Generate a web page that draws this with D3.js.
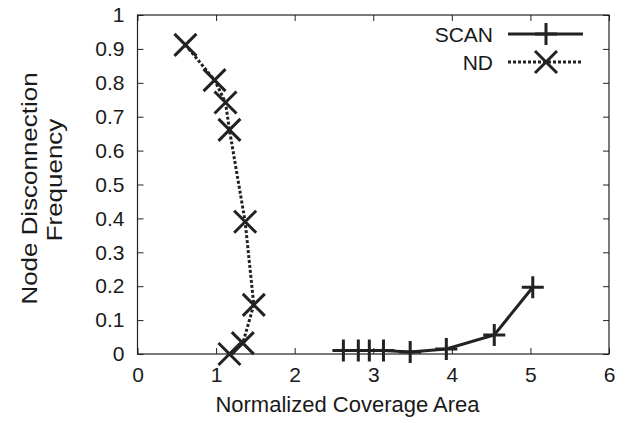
<!DOCTYPE html>
<html lang="en">
<head>
    <meta charset="UTF-8">
    <title>Node Disconnection Frequency</title>
    <script src="https://d3js.org/d3.v7.min.js"></script>
    <style>
        body { margin: 0; background: #fff; }
        svg text { font-family: "Liberation Sans", Arial, Helvetica, sans-serif; fill: #1a1a1a; }
    </style>
</head>
<body>
    <div id="chart-container"></div>

    <script>
        // values
        const scanX = [2.62, 2.81, 2.95, 3.13, 3.47, 3.93, 4.54, 5.03];
        const scanY = [0.010, 0.010, 0.010, 0.010, 0.006, 0.015, 0.056, 0.197];
        const ndX = [0.61, 0.98, 1.12, 1.17, 1.37, 1.48, 1.34, 1.17];
        const ndY = [0.912, 0.808, 0.742, 0.661, 0.390, 0.145, 0.032, 0.0];
        const xTicks = [0, 1, 2, 3, 4, 5, 6];
        const yTicks = [0, 0.1, 0.2, 0.3, 0.4, 0.5, 0.6, 0.7, 0.8, 0.9, 1];
        const seriesNames = ["SCAN", "ND"];

        const containerWidth = 632;
        const containerHeight = 423;
        const margins = { top: 15, right: 23, bottom: 69, left: 137.5 };
        const width = containerWidth - margins.left - margins.right;
        const height = containerHeight - margins.top - margins.bottom;
        const ink = "#222";

        const svg = d3.select("#chart-container")
            .append("svg")
            .attr("width", containerWidth)
            .attr("height", containerHeight)
            .append("g")
            .attr("transform", `translate(${margins.left},${margins.top})`);

        const x = d3.scaleLinear().domain([0, 6]).range([0, width]);
        const y = d3.scaleLinear().domain([0, 1]).range([height, 0]);
        const fmt = d3.format("");

        // gnuplot style: ticks point inward on all four sides
        function styleAxis(g) {
            g.select(".domain").remove();
            g.selectAll("line").attr("stroke", ink);
            g.selectAll("text").style("font-size", "21px").style("font-family", null);
        }

        svg.append("g")
            .attr("transform", `translate(0,${height})`)
            .call(d3.axisBottom(x).tickValues(xTicks).tickSize(-6).tickPadding(13).tickFormat(fmt))
            .call(styleAxis);

        svg.append("g")
            .call(d3.axisTop(x).tickValues(xTicks).tickSize(-6).tickFormat(""))
            .call(styleAxis);

        svg.append("g")
            .call(d3.axisLeft(y).tickValues(yTicks).tickSize(-6).tickPadding(13).tickFormat(fmt))
            .call(styleAxis);

        svg.append("g")
            .attr("transform", `translate(${width},0)`)
            .call(d3.axisRight(y).tickValues(yTicks).tickSize(-6).tickFormat(""))
            .call(styleAxis);

        // frame
        svg.append("rect")
            .attr("width", width)
            .attr("height", height)
            .attr("fill", "none")
            .attr("stroke", ink)
            .attr("stroke-width", 1.2);

        // axis titles
        svg.append("text")
            .attr("x", 347.5 - margins.left)
            .attr("y", 412 - margins.top)
            .attr("text-anchor", "middle")
            .style("font-size", "22px")
            .text("Normalized Coverage Area");

        svg.append("text")
            .attr("transform", `translate(${37 - margins.left},${188.5 - margins.top}) rotate(-90) scale(1.18,1)`)
            .attr("text-anchor", "middle")
            .style("font-size", "22px")
            .text("Node Disconnection");

        svg.append("text")
            .attr("transform", `translate(${62 - margins.left},${180 - margins.top}) rotate(-90) scale(1.18,1)`)
            .attr("text-anchor", "middle")
            .style("font-size", "22px")
            .text("Frequency");

        // series
        const scan = scanX.map((v, i) => [v, scanY[i]]);
        const nd = ndX.map((v, i) => [v, ndY[i]]);
        const line = d3.line().x(d => x(d[0])).y(d => y(d[1]));
        const m = 11;

        function plus(sel) {
            sel.append("path")
                .attr("d", `M${-m},0H${m}M0,${-m}V${m}`)
                .attr("stroke", ink)
                .attr("stroke-width", 3)
                .attr("fill", "none");
        }
        function cross(sel) {
            sel.append("path")
                .attr("d", `M${-m},${-m}L${m},${m}M${-m},${m}L${m},${-m}`)
                .attr("stroke", ink)
                .attr("stroke-width", 3)
                .attr("fill", "none");
        }

        svg.append("path")
            .datum(scan)
            .attr("fill", "none")
            .attr("stroke", ink)
            .attr("stroke-width", 3)
            .attr("d", line);

        svg.append("path")
            .datum(nd)
            .attr("fill", "none")
            .attr("stroke", ink)
            .attr("stroke-width", 3)
            .attr("stroke-dasharray", "3,2")
            .attr("d", line);

        svg.selectAll(".scan-pt")
            .data(scan)
            .join("g")
            .attr("class", "scan-pt")
            .attr("transform", d => `translate(${x(d[0])},${y(d[1])})`)
            .call(plus);

        svg.selectAll(".nd-pt")
            .data(nd)
            .join("g")
            .attr("class", "nd-pt")
            .attr("transform", d => `translate(${x(d[0])},${y(d[1])})`)
            .call(cross);

        // legend
        const legend = svg.append("g")
            .attr("transform", `translate(${493 - margins.left},${34 - margins.top})`);

        seriesNames.forEach(function(name, i) {
            const row = legend.append("g").attr("transform", `translate(0,${i * 28})`);
            row.append("text")
                .attr("text-anchor", "end")
                .attr("dy", "0.36em")
                .style("font-size", "21px")
                .text(name);
            row.append("line")
                .attr("x1", 15).attr("x2", 90)
                .attr("stroke", ink)
                .attr("stroke-width", 3)
                .attr("stroke-dasharray", i === 0 ? null : "3,2");
            row.append("g")
                .attr("transform", "translate(53,0)")
                .call(i === 0 ? plus : cross);
        });
    </script>
</body>
</html>
